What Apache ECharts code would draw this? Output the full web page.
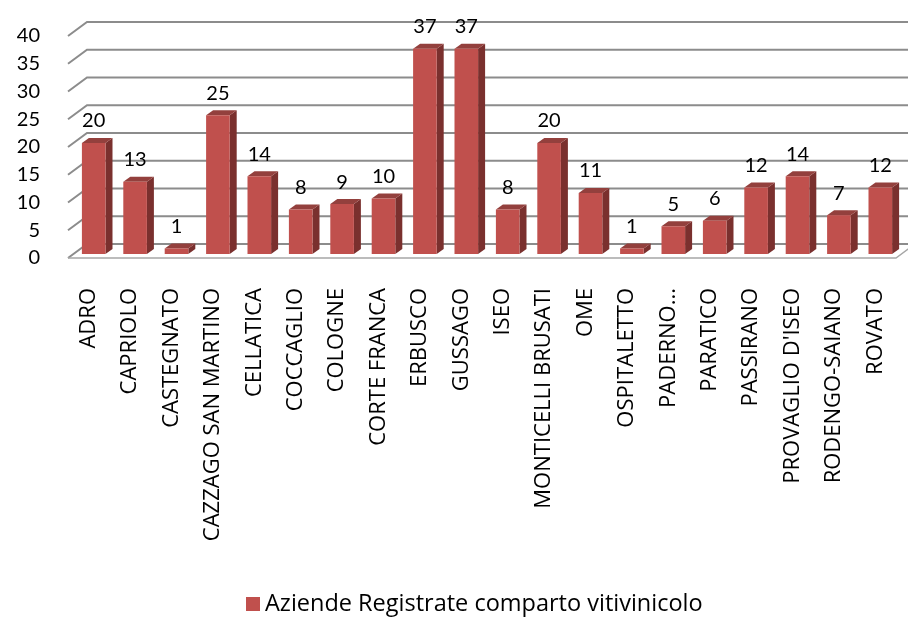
<!DOCTYPE html>
<html>
<head>
<meta charset="utf-8">
<script src="https://cdn.jsdelivr.net/npm/echarts@6/dist/echarts.min.js"></script>
<style>
  html, body { margin: 0; padding: 0; background: #fff; }
  #main { width: 908px; height: 623px; }
</style>
</head>
<body>
<div id="main"></div>
<script>
  // dati
  const categories = ['ADRO', 'CAPRIOLO', 'CASTEGNATO', 'CAZZAGO SAN MARTINO', 'CELLATICA', 'COCCAGLIO',
    'COLOGNE', 'CORTE FRANCA', 'ERBUSCO', 'GUSSAGO', 'ISEO', 'MONTICELLI BRUSATI', 'OME', 'OSPITALETTO',
    'PADERNO...', 'PARATICO', 'PASSIRANO', 'PROVAGLIO D\'ISEO', 'RODENGO-SAIANO', 'ROVATO']
  const values = [20, 13, 1, 25, 14, 8, 9, 10, 37, 37, 8, 20, 11, 1, 5, 6, 12, 14, 7, 12]
  const yTicks = [0, 5, 10, 15, 20, 25, 30, 35, 40]
  const seriesName = 'Aziende Registrate comparto vitivinicolo'

  const FONT = 'Lato'
  const FONT_WIDE = 'Open Sans'
  // profondita finta 3D
  const WALL_DX = 19, WALL_DY = -14
  const BAR_OX = 5, BAR_OY = -4
  const BAR_DX = 7, BAR_DY = -5

  let chart = echarts.init(document.getElementById('main'))

  function renderWall (params, api) {
    let v = api.value(0)
    let cs = params.coordSys
    let y = api.coord([0, v])[1]
    let children = [{
      type: 'polyline',
      shape: { points: [[cs.x, y], [cs.x + WALL_DX, y + WALL_DY], [cs.x + cs.width + WALL_DX, y + WALL_DY]] },
      style: { stroke: '#8c8c8c', lineWidth: 2, fill: null }
    }]
    if (v === 0) {
      children.push({
        type: 'polyline',
        shape: { points: [[cs.x, y], [cs.x + cs.width, y], [cs.x + cs.width + WALL_DX, y + WALL_DY]] },
        style: { stroke: '#a6a6a6', lineWidth: 1.5, fill: null }
      })
    }
    return { type: 'group', children: children }
  }

  function renderBar (params, api) {
    let c = api.coord([api.value(0), api.value(1)])
    let b = api.coord([api.value(0), 0])
    let bw = api.size([1, 0])[0] * 0.57
    let x0 = c[0] - bw / 2 + BAR_OX
    let top = c[1] + BAR_OY
    let bottom = b[1] + BAR_OY
    return {
      type: 'group',
      children: [
        {
          type: 'polygon',
          shape: { points: [[x0 + bw, top], [x0 + bw + BAR_DX, top + BAR_DY], [x0 + bw + BAR_DX, bottom + BAR_DY], [x0 + bw, bottom]] },
          style: { fill: '#7a302e' }
        },
        {
          type: 'polygon',
          shape: { points: [[x0, top], [x0 + BAR_DX, top + BAR_DY], [x0 + bw + BAR_DX, top + BAR_DY], [x0 + bw, top]] },
          style: { fill: '#93403d' }
        },
        {
          type: 'rect',
          shape: { x: x0, y: top, width: bw, height: bottom - top },
          style: { fill: '#c0504d' }
        },
        {
          type: 'text',
          style: {
            text: String(api.value(1)),
            x: x0 + bw / 2,
            y: top - 12,
            align: 'center',
            verticalAlign: 'bottom',
            fill: '#000',
            font: '20px ' + FONT
          }
        }
      ]
    }
  }

  chart.setOption({
    animation: false,
    grid: { left: 68, right: 12, top: 36, bottom: 365 },
    legend: {
      bottom: 2,
      left: 241,
      data: [{ name: seriesName, icon: 'rect' }],
      itemWidth: 14,
      itemHeight: 14,
      itemGap: 6,
      textStyle: { fontSize: 23.5, color: '#000', fontFamily: FONT_WIDE }
    },
    xAxis: {
      type: 'category',
      data: categories,
      axisLine: { show: false },
      axisTick: { show: false },
      axisLabel: {
        interval: 0,
        rotate: 90,
        margin: 30,
        fontSize: 22,
        color: '#000',
        fontFamily: FONT_WIDE
      }
    },
    yAxis: {
      type: 'value',
      min: 0,
      max: 40,
      interval: 5,
      axisLine: { show: false },
      axisTick: { show: false },
      splitLine: { show: false },
      axisLabel: { fontSize: 20, color: '#000', fontFamily: FONT, margin: 28 }
    },
    series: [
      {
        type: 'custom',
        silent: true,
        z: 1,
        renderItem: renderWall,
        data: yTicks.map(v => [v])
      },
      {
        name: seriesName,
        type: 'custom',
        z: 2,
        itemStyle: { color: '#c0504d' },
        renderItem: renderBar,
        encode: { x: 0, y: 1 },
        data: values.map((v, i) => [i, v])
      }
    ]
  })
</script>
</body>
</html>
